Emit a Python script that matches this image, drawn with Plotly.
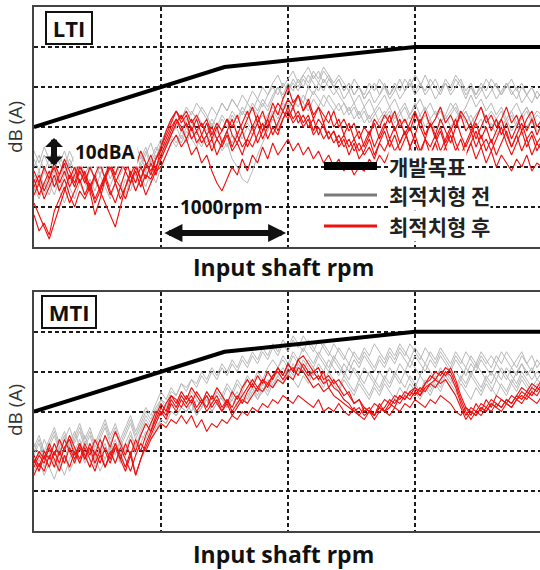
import plotly.graph_objects as go

W, H = 540, 570

# ---------------- data ----------------
rpm = [1000 + 40 * i for i in range(101)]

target_rpm = [1000, 2000, 2500, 4000, 5000]
target_db = [60, 70, 75, 80, 80]

lti_before = [
    [50,53,49,52,55,51,54,50,53,49, 52,55,51,54,50,53,56,52,55,51, 54,50,53,56,52,56,59,62,60,63,
     61,64,62,65,63,60,63,66,64,67, 65,68,66,69,67,70,68,71,73,70, 72,74,71,73,75,72,74,71,73,70,
     72,69,71,68,70,67,69,66,68,71, 68,70,67,69,72,69,71,68,70,67, 69,72,70,73,71,68,70,67,69,72,
     70,67,69,71,68,70,66,68,70,67, 69],
    [46,49,45,48,51,47,50,46,49,52, 48,51,47,50,53,49,52,48,51,54, 50,53,49,52,55,53,56,58,61,59,
     62,60,63,61,58,61,59,62,60,63, 61,64,62,65,63,66,64,67,70,68, 71,69,72,70,73,71,69,72,70,68,
     70,67,69,66,68,65,67,64,66,68, 65,67,64,66,63,65,67,64,66,63, 65,62,64,66,63,65,68,65,67,64,
     66,63,65,62,64,66,63,65,62,64, 63],
    [52,49,53,50,54,51,48,52,49,53, 50,54,51,48,52,55,51,54,50,53, 56,52,55,51,54,57,55,58,60,57,
     60,57,59,56,58,55,57,54,56,52, 50,47,46,49,53,56,59,62,60,64, 66,64,68,66,70,68,71,69,72,70,
     68,66,64,66,63,65,62,64,61,63, 65,62,64,61,63,66,63,65,62,64, 61,63,66,64,62,64,61,63,65,62,
     64,62,60,62,64,61,63,65,62,60, 62],
    [44,47,43,46,49,45,48,51,47,50, 46,49,52,48,51,47,50,53,49,52, 48,51,54,50,53,52,55,58,56,59,
     57,60,58,61,59,62,60,63,61,64, 62,65,63,66,64,67,65,68,70,67, 69,71,69,72,70,73,71,74,72,70,
     72,69,71,68,70,67,69,71,68,70, 67,69,72,69,71,68,70,73,70,72, 69,71,68,70,72,69,71,68,70,67,
     69,71,68,70,72,69,71,68,70,67, 69],
    [48,45,49,46,43,47,44,48,45,49, 46,43,47,44,48,45,49,46,43,47, 44,48,45,49,46,50,53,56,58,56,
     59,57,55,58,56,59,57,55,58,56, 59,57,60,58,61,63,61,64,62,65, 67,65,68,66,64,67,65,68,66,64,
     66,63,65,62,64,61,63,60,62,64, 61,63,60,62,59,61,63,60,62,59, 61,63,60,62,64,61,63,60,62,59,
     61,58,60,62,59,61,58,60,62,59, 60],
    [54,51,55,52,49,53,50,54,51,48, 52,49,53,50,47,51,48,52,49,53, 50,54,51,48,52,56,59,62,64,62,
     65,63,66,64,62,65,63,66,64,67, 65,63,66,64,67,65,68,70,68,71, 69,72,70,73,71,74,72,75,73,71,
     73,71,69,72,70,68,71,69,72,70, 68,71,69,72,70,73,71,69,72,70, 68,71,69,72,70,67,70,68,71,69,
     72,70,68,71,69,67,70,68,66,69, 67],
    [45,42,46,43,47,44,41,45,42,46, 43,47,44,48,45,42,46,43,47,44, 48,45,49,46,50,52,55,57,55,58,
     56,59,57,55,58,56,59,57,55,58, 56,59,61,59,62,60,63,65,63,66, 64,67,65,68,66,69,67,65,68,66,
     64,66,63,65,62,64,61,63,65,62, 64,61,63,65,62,64,61,63,60,62, 64,61,63,65,62,64,61,63,65,62,
     60,62,64,61,63,60,62,64,61,63, 62],
]

lti_after = [
    [45,48,44,47,50,46,49,45,48,51, 47,44,48,51,47,50,46,49,52,48, 51,47,50,53,49,55,59,62,64,61,
     63,59,62,58,61,57,60,56,59,62, 58,61,64,60,63,59,62,66,63,67, 70,66,68,64,67,63,65,61,64,60,
     62,58,61,57,59,55,58,61,57,60, 63,59,62,58,61,64,60,57,61,58, 62,59,56,60,63,59,61,57,60,63,
     59,62,58,61,57,60,63,59,62,58, 61],
    [38,34,36,33,39,42,45,41,44,47, 43,46,42,45,48,44,41,45,42,46, 49,45,48,47,50,53,56,59,62,60,
     57,60,56,58,55,57,53,56,59,55, 58,55,57,60,56,59,62,58,61,64, 62,65,61,63,60,62,58,61,57,59,
     55,57,53,56,52,54,57,53,56,59, 55,58,54,57,60,56,53,57,55,58, 54,57,60,56,53,56,59,55,58,54,
     57,53,56,59,55,58,54,57,53,56, 54],
    [47,43,46,49,45,48,51,47,50,46, 49,45,48,44,41,38,35,40,45,49, 46,50,47,51,48,52,55,58,61,63,
     60,62,59,61,58,60,57,59,62,58, 56,59,55,58,61,57,60,63,59,62, 65,62,64,61,63,59,62,60,57,59,
     56,58,55,57,54,56,59,55,58,61, 57,60,56,59,55,58,62,58,61,57, 60,56,59,62,58,55,58,61,57,60,
     56,59,62,58,55,58,61,57,59,56, 58],
    [43,46,42,45,48,44,47,43,40,44, 42,45,41,44,47,43,46,42,45,48, 44,47,43,46,49,50,53,56,58,55,
     57,53,55,51,53,49,46,44,47,50, 48,52,49,53,51,55,52,56,53,55, 57,54,56,53,55,52,54,51,53,50,
     52,49,51,48,50,49,52,50,53,51, 54,51,53,50,55,52,54,51,53,56, 52,55,51,54,50,53,56,52,55,51,
     54,50,53,51,49,52,50,53,49,51, 50],
    [49,46,50,47,51,48,52,49,46,50, 48,44,38,42,47,51,48,52,49,53, 50,54,51,49,52,55,58,61,64,62,
     64,61,63,60,62,58,61,59,62,60, 63,59,62,65,61,64,60,63,66,64, 67,65,68,64,66,62,65,63,61,64,
     60,62,59,61,57,60,58,62,60,63, 61,64,60,62,59,63,61,64,60,62, 65,61,63,60,64,62,59,62,65,61,
     63,60,62,65,61,63,59,62,64,60, 62],
    [41,38,35,32,36,40,44,48,45,49, 46,50,47,44,48,51,47,45,49,46, 50,47,51,48,52,54,57,60,62,59,
     61,57,59,56,58,54,57,55,58,54, 56,53,57,55,58,61,57,60,58,62, 64,61,63,60,62,58,60,57,59,56,
     58,55,57,54,56,53,55,52,56,54, 57,54,56,59,55,58,54,57,53,56, 59,55,58,54,57,53,56,59,55,57,
     54,57,60,56,53,56,59,55,58,54, 57],
]

mti_before = [
    [50,53,49,52,55,51,54,50,53,56, 52,55,51,54,57,53,56,52,55,58, 54,57,60,58,61,63,62,65,64,67,
     65,68,66,69,67,70,68,71,69,72, 70,73,71,74,72,75,73,76,74,77, 75,78,76,79,77,75,78,76,74,77,
     75,73,76,74,72,75,73,71,74,72, 75,73,76,74,77,75,73,76,74,72, 75,73,71,74,72,75,73,71,74,72,
     74,72,75,73,71,73,75,72,74,71, 73],
    [47,50,46,49,52,48,51,54,50,53, 49,52,48,51,54,50,53,49,52,55, 51,54,57,55,58,60,59,62,61,64,
     62,65,63,61,64,62,65,63,66,64, 67,65,68,66,69,67,70,68,71,73, 71,74,72,70,73,71,74,72,70,73,
     71,69,72,70,68,71,69,67,70,68, 71,69,72,70,73,71,69,72,70,68, 71,69,67,70,68,71,69,72,70,68,
     70,68,71,69,67,70,72,69,71,68, 70],
    [52,49,53,50,47,51,48,52,55,51, 54,50,47,51,48,52,49,53,50,54, 51,55,58,56,59,62,60,63,61,64,
     62,60,63,61,64,62,65,63,61,64, 62,65,63,66,64,67,65,68,70,68, 71,69,72,70,68,71,69,67,70,68,
     66,69,67,65,68,66,64,67,65,68, 66,69,67,70,68,66,69,67,65,68, 66,69,67,65,68,66,69,67,65,68,
     66,64,67,65,68,66,69,67,65,67, 66],
    [45,48,44,47,50,46,49,45,48,51, 47,50,46,49,52,48,51,47,50,53, 49,52,55,53,56,58,57,60,59,61,
     60,62,59,61,63,60,62,64,61,63, 65,62,64,66,63,65,68,66,69,71, 69,72,70,73,71,69,72,70,73,71,
     69,72,70,73,71,74,72,70,73,71, 74,72,75,73,71,74,72,70,73,71, 74,72,70,73,71,69,72,70,73,71,
     69,72,70,68,71,69,72,70,68,70, 69],
    [49,52,48,51,54,50,53,56,52,55, 51,54,50,53,56,52,55,51,54,57, 53,56,59,57,60,63,61,64,62,65,
     63,66,64,62,65,63,66,64,67,65, 68,66,69,67,70,68,71,73,71,74, 72,75,73,76,74,72,75,73,71,74,
     72,70,68,71,69,67,70,68,66,69, 67,70,68,66,69,67,65,68,66,69, 67,70,68,66,69,67,70,68,66,69,
     67,70,68,71,69,67,70,68,66,68, 67],
    [48,45,49,46,43,47,44,48,51,47, 50,46,49,45,48,51,47,50,46,49, 52,54,53,56,55,58,57,60,59,61,
     60,62,59,61,63,60,62,64,61,63, 61,64,62,65,63,66,64,67,69,67, 70,68,66,69,67,70,68,66,69,67,
     65,68,66,64,67,65,63,66,64,67, 65,63,66,64,67,65,63,66,64,67, 65,68,66,64,67,65,63,66,64,67,
     65,68,66,64,67,65,68,66,64,66, 65],
    [51,54,50,53,56,52,55,51,54,57, 53,56,52,55,58,54,57,53,56,59, 55,58,61,59,62,65,63,66,64,67,
     66,68,67,70,68,71,69,72,70,73, 71,74,72,75,73,76,74,77,75,78, 76,79,77,75,78,76,74,77,75,73,
     76,74,72,75,73,76,74,77,75,73, 76,74,77,75,73,76,74,72,75,73, 76,74,72,75,73,71,74,72,75,73,
     71,74,72,75,73,71,74,72,70,73, 71],
]

mti_after = [
    [47,50,48,52,49,53,50,54,51,48, 52,49,53,50,54,51,55,52,49,53, 50,54,57,55,59,62,60,64,62,65,
     63,66,64,62,65,63,66,64,62,65, 63,66,68,66,69,67,70,68,71,69, 72,70,73,74,72,70,71,68,69,67,
     68,66,64,62,63,61,60,62,61,63, 62,64,63,65,64,66,65,67,69,68, 70,69,71,68,64,61,59,62,60,63,
     61,64,63,62,64,63,65,64,66,65, 67],
    [44,47,45,49,46,50,47,51,48,52, 49,46,50,47,51,48,52,49,46,50, 44,48,52,55,58,61,59,63,61,64,
     62,64,61,63,60,62,64,61,63,60, 62,64,66,68,66,68,67,69,70,68, 70,71,69,72,70,68,69,67,68,66,
     65,63,62,60,61,59,60,58,60,61, 63,62,64,63,65,66,64,67,68,70, 69,71,70,67,63,60,58,60,59,61,
     60,62,61,63,62,64,63,65,64,66, 65],
    [49,46,50,48,52,49,53,50,47,51, 48,52,49,53,50,47,51,48,52,49, 53,50,54,57,60,59,62,64,63,61,
     64,62,65,63,61,64,62,60,63,61, 64,62,65,67,65,68,66,69,71,69, 72,70,73,71,69,70,68,70,66,68,
     66,64,65,62,63,60,61,59,62,60, 62,61,64,63,65,64,66,65,67,66, 68,70,69,66,62,59,61,60,62,61,
     63,62,61,63,62,64,66,65,67,66, 68],
    [46,49,47,51,48,45,49,46,50,47, 51,48,45,49,46,50,47,51,48,45, 49,52,50,53,55,57,56,58,57,59,
     57,59,56,58,55,57,56,58,57,59, 58,60,59,61,60,62,61,63,62,64, 63,62,64,63,62,61,63,60,61,60,
     62,60,59,61,59,58,60,59,61,60, 59,61,60,62,61,63,62,61,63,62, 64,63,62,60,59,61,60,59,61,60,
     62,61,60,62,61,63,62,64,63,62, 64],
    [48,45,49,46,50,47,51,53,49,52, 48,51,47,50,46,49,52,48,45,49, 44,48,51,54,57,60,58,62,60,63,
     61,63,60,62,64,61,63,60,62,59, 61,63,62,64,66,65,67,66,68,67, 69,68,71,70,68,66,67,65,66,64,
     63,62,61,60,59,61,60,59,61,60, 61,63,62,64,63,65,64,66,67,68, 67,68,66,64,61,58,60,59,61,60,
     62,61,63,62,61,63,64,63,65,64, 66],
]

panels = [("LTI", lti_before, lti_after, "x", "y"),
          ("MTI", mti_before, mti_after, "x2", "y2")]

legend_labels = ["개발목표", "최적치형 전", "최적치형 후"]

GRAY = "#b8b8b8"
RED = "#f01010"

# ---------------- figure ----------------
fig = go.Figure()

for name, before, after, xa, ya in panels:
    for s in before:
        fig.add_trace(go.Scatter(x=rpm, y=s, mode="lines", xaxis=xa, yaxis=ya,
                                 line=dict(color=GRAY, width=1), hoverinfo="skip",
                                 showlegend=False))
    for s in after:
        fig.add_trace(go.Scatter(x=rpm, y=s, mode="lines", xaxis=xa, yaxis=ya,
                                 line=dict(color=RED, width=1.1), hoverinfo="skip",
                                 showlegend=False))
    fig.add_trace(go.Scatter(x=target_rpm, y=target_db, mode="lines", xaxis=xa, yaxis=ya,
                             line=dict(color="black", width=4), hoverinfo="skip",
                             showlegend=False))

def px(v):
    return v / W

def py(v):
    return 1 - v / H

xl = 34
top_panel = (7, 247)
bot_panel = (292, 531)

axis_common = dict(showticklabels=False, ticks="", zeroline=False,
                   showgrid=True, gridcolor="#1a1a1a", gridwidth=1.6,
                   griddash="4px,3px", showline=True, linecolor="#444444",
                   linewidth=1.5)

fig.update_layout(
    width=W, height=H, margin=dict(l=0, r=0, t=0, b=0),
    paper_bgcolor="white", plot_bgcolor="white",
    xaxis=dict(domain=[px(xl), 1], range=[1000, 4984], tickvals=[2000, 3000, 4000],
               anchor="y", mirror=True, **axis_common),
    yaxis=dict(domain=[py(top_panel[1]), py(top_panel[0])], range=[30, 90],
               tickvals=[40, 50, 60, 70, 80], anchor="x", mirror=False, **axis_common),
    xaxis2=dict(domain=[px(xl), 1], range=[1000, 4984], tickvals=[2000, 3000, 4000],
                anchor="y2", mirror=True, **axis_common),
    yaxis2=dict(domain=[py(bot_panel[1]), py(bot_panel[0])], range=[30, 90],
                tickvals=[40, 50, 60, 70, 80], anchor="x2", mirror=False, **axis_common),
    font=dict(family="Open Sans, Noto Sans CJK KR", color="#222"),
)

ann = []
# panel tags
for label, ycen in (("LTI", 28), ("MTI", 312)):
    ann.append(dict(text="<b> %s </b>" % label, x=px(69), y=py(ycen), xref="paper",
                    yref="paper", showarrow=False, font=dict(size=22, color="#111"),
                    bordercolor="#111", borderwidth=2, borderpad=0, bgcolor="white",
                    xanchor="center", yanchor="middle"))
# axis titles
for ycen in (127, 410):
    ann.append(dict(text="dB (A)", x=px(15), y=py(ycen), xref="paper", yref="paper",
                    showarrow=False, textangle=-90, font=dict(size=19, color="#333"),
                    xanchor="center", yanchor="middle"))
for ycen in (267, 554):
    ann.append(dict(text="<b>Input shaft rpm</b>", x=px(283), y=py(ycen), xref="paper",
                    yref="paper", showarrow=False, font=dict(size=23, color="#111"),
                    xanchor="center", yanchor="middle"))

# 10dBA arrow and label
ann.append(dict(x=px(54), y=py(138), ax=0, ay=29, xref="paper", yref="paper",
                axref="pixel", ayref="pixel", text="", showarrow=True,
                arrowside="end+start", arrowhead=1, startarrowhead=1,
                arrowwidth=6, arrowsize=0.5, startarrowsize=0.5, arrowcolor="#111"))
ann.append(dict(text="<b>10dBA</b>", x=px(73), y=py(152), xref="paper", yref="paper",
                xanchor="left", yanchor="middle", showarrow=False, bgcolor="white",
                font=dict(size=19, color="#111")))
# 1000rpm arrow and label
ann.append(dict(x=2985, y=33.5, ax=2015, ay=33.5, xref="x", yref="y", axref="x", ayref="y",
                text="", showarrow=True, arrowside="end+start", arrowhead=2,
                startarrowhead=2, arrowwidth=6, arrowsize=0.6, startarrowsize=0.6,
                arrowcolor="#111"))
ann.append(dict(text="<b>1000rpm</b>", x=2480, y=40, xref="x", yref="y",
                xanchor="center", yanchor="middle", showarrow=False, bgcolor="white",
                font=dict(size=19, color="#111")))

# legend
leg_y = [166, 195, 226]
leg_col = ["black", "#7a7a7a", RED]
leg_w = [8, 3, 3]
shapes = []
for lab, yy, col, lw in zip(legend_labels, leg_y, leg_col, leg_w):
    shapes.append(dict(type="line", xref="paper", yref="paper", x0=px(324), x1=px(377),
                       y0=py(yy), y1=py(yy), line=dict(color=col, width=lw)))
    ann.append(dict(text="<b>%s</b>" % lab, x=px(388), y=py(yy), xref="paper", yref="paper",
                    xanchor="left", yanchor="middle", showarrow=False, bgcolor="white",
                    borderpad=0,
                    font=dict(size=21, color="#222", family="Noto Sans CJK KR")))

fig.update_layout(annotations=ann, shapes=shapes)

fig.write_html("out.html")
